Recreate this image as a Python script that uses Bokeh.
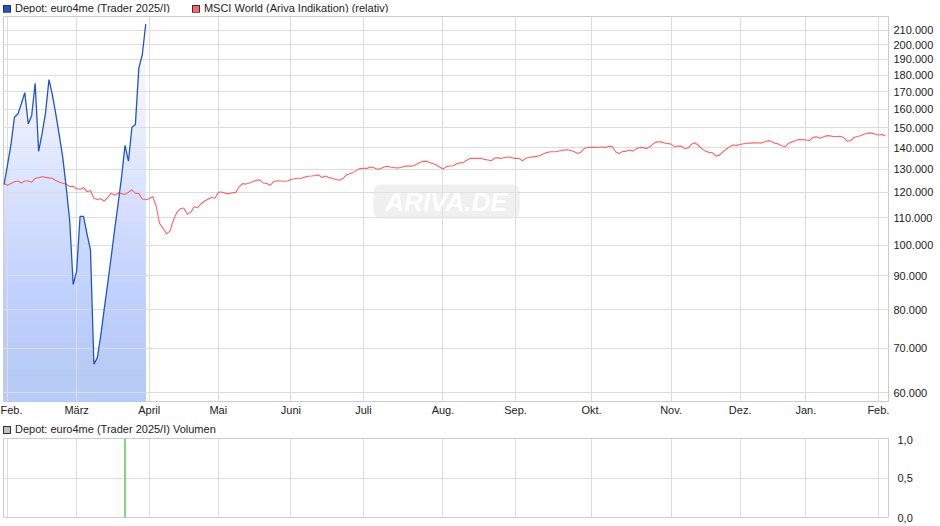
import numpy as np
import pandas as pd
from bokeh.plotting import figure
from bokeh.models import (Range1d, FixedTicker, Label, Grid, Div)
from bokeh.layouts import column
from bokeh.embed import file_html
from bokeh.resources import INLINE

# ---------------- data ----------------
HOLIDAYS = ["2025-04-18", "2025-04-21", "2025-05-01", "2025-12-24",
            "2025-12-25", "2025-12-26", "2025-12-31", "2026-01-01"]
DATES = pd.bdate_range("2025-01-31", "2026-02-04", freq="C", holidays=HOLIDAYS)

MONTH_LABELS = ["Feb.", "März", "April", "Mai", "Juni", "Juli", "Aug.",
                "Sep.", "Okt.", "Nov.", "Dez.", "Jan.", "Feb."]

SERIES_NAMES = ["Depot: euro4me (Trader 2025/I)",
                "MSCI World (Ariva Indikation) (relativ)"]
VOLUME_NAME = "Depot: euro4me (Trader 2025/I) Volumen"

# Depot euro4me (Trader 2025/I), in thousands, Jan 31 .. Mar 31 2025
DEPOT_K = [123.3, 132.0, 141.5, 155.6, 157.3, 163.0, 169.4, 152.0, 156.6, 175.0,
           138.3, 147.0, 158.0, 177.2, 168.0, 157.0, 146.0, 135.2, 122.0, 108.7,
           87.3, 91.4, 110.5, 110.5, 104.0, 98.5, 66.3, 67.8, 73.3, 80.3,
           87.7, 96.0, 105.5, 115.3, 126.5, 141.2, 133.7, 150.3, 151.7, 184.4,
           193.1, 214.7]

# Depot volume
VOLUME = [0] * 35 + [1] + [0] * 6

# MSCI World (Ariva Indikation) (relativ), in thousands
MSCI_K = [
    123.8, 123.0, 123.8, 124.5, 124.8, 124.0, 124.8, 124.8, 124.3, 126.0,
    126.3, 126.7, 126.4, 126.2, 126.0, 125.0, 124.3, 123.9, 123.5, 122.5,
    122.6, 121.5, 121.3, 122.0, 120.3, 120.8, 117.6, 117.1, 117.4, 116.4,
    118.0, 119.7, 118.8, 119.7, 119.5, 119.2, 120.1, 121.1, 119.7, 119.5,
    117.3, 117.0, 117.4, 118.3, 114.5, 107.8, 106.0, 104.0, 105.0, 109.0,
    112.0, 113.4, 113.7, 111.3, 112.0, 114.2, 113.8, 115.4, 116.5, 117.2,
    117.9, 117.6, 120.0, 120.2, 119.7, 119.4, 119.9, 119.9, 122.3, 123.7,
    123.5, 124.0, 124.6, 125.2, 125.2, 124.0, 123.8, 123.0, 124.5, 124.9,
    124.8, 124.7, 124.8, 125.5, 125.8, 126.0, 126.0, 126.5, 126.9, 127.0,
    127.2, 127.5, 126.3, 127.0, 126.3, 126.0, 125.5, 125.2, 125.8, 127.4,
    128.0, 128.6, 129.5, 130.3, 130.4, 130.4, 131.0, 130.7, 130.0, 130.3,
    131.0, 131.4, 130.9, 130.7, 130.6, 130.9, 131.4, 131.4, 131.4, 131.9,
    132.8, 133.5, 133.7, 133.2, 132.6, 132.0, 131.0, 130.1, 131.2, 131.5,
    131.6, 132.5, 132.9, 133.2, 134.2, 135.0, 135.0, 135.0, 135.0, 134.5,
    134.2, 133.9, 135.2, 135.2, 135.0, 135.4, 135.6, 135.3, 135.0, 135.0,
    133.9, 135.0, 135.5, 135.7, 135.9, 136.2, 137.0, 137.7, 138.1, 138.1,
    138.2, 138.6, 138.9, 139.1, 138.7, 138.1, 137.3, 138.0, 139.8, 140.2,
    140.2, 140.2, 140.3, 140.4, 140.1, 140.8, 140.5, 138.0, 137.3, 138.3,
    138.3, 138.9, 138.4, 139.6, 140.2, 140.1, 139.6, 140.6, 142.2, 142.9,
    142.9, 142.4, 142.1, 141.8, 140.6, 140.9, 140.8, 139.5, 140.0, 141.9,
    142.4, 141.0, 139.5, 138.4, 137.8, 137.6, 136.1, 136.5, 138.0, 139.4,
    140.6, 141.4, 141.2, 141.6, 142.0, 142.2, 142.3, 142.4, 142.5, 142.3,
    142.8, 143.5, 143.2, 142.2, 141.9, 141.0, 140.5, 142.2, 142.9, 143.6,
    144.0, 144.0, 143.8, 143.6, 145.0, 145.4, 144.7, 145.3, 146.0, 145.9,
    145.6, 145.6, 145.7, 145.0, 143.2, 143.5, 145.2, 145.6, 146.1, 146.8,
    147.4, 147.3, 146.8, 146.3, 146.6, 145.9]

Y_TICKS = list(range(60000, 210001, 10000))
Y_LABELS = {v: f"{v // 1000}.000" for v in Y_TICKS}
VOL_TICKS = [0, 0.5, 1]
VOL_LABELS = {0: "0,0", 0.5: "0,5", 1: "1,0"}

N_DAYS = min(len(DATES), len(MSCI_K))
x_all = list(range(N_DAYS))
msci = [v * 1000 for v in MSCI_K[:N_DAYS]]
x_dep = list(range(len(DEPOT_K)))
depot = np.array([v * 1000 for v in DEPOT_K])

tick_idx = [i for i in range(1, N_DAYS) if DATES[i].month != DATES[i - 1].month]
x_labels = {t: MONTH_LABELS[k] for k, t in enumerate(tick_idx[:len(MONTH_LABELS)])}

# ---------------- style ----------------
FONT = "Liberation Sans"
GRID = "#dddddd"
FRAME = "#cccccc"
TXT = "#222222"
BLUE = "#1f56c6"
RED = "#ff6464"
VOLC = "#c0c0c0"
AREA = (183, 205, 246)
FW = 885
FH = 385
VH = 79
TOTAL_W = 938
Y_MIN, Y_MAX = 58260, 220400


def legend_html(entries, pad_top):
    sq = ("display:inline-block;width:8px;height:8px;border:1px solid #333;"
          "vertical-align:-1px;background:{c};margin-left:{m}px")
    parts = []
    for k, (name, col) in enumerate(entries):
        parts.append(f'<span style="{sq.format(c=col, m=3 if k == 0 else 22)}"></span>'
                     f'<span style="margin-left:4px">{name}</span>')
    return (f'<div style="font-family:\'{FONT}\';font-size:11px;color:{TXT};'
            f'line-height:12px;white-space:nowrap;padding-top:{pad_top}px">'
            + "".join(parts) + "</div>")


x_range = Range1d(-0.16, N_DAYS - 0.08)

head = Div(text=legend_html(list(zip(SERIES_NAMES, [BLUE, RED])), 0),
           width=TOTAL_W, height=12, margin=(0, 0, 0, 0))

p = figure(frame_width=FW, frame_height=FH, x_range=x_range, y_range=Range1d(Y_MIN, Y_MAX),
           y_axis_type="log", y_axis_location="right",
           output_backend="svg", toolbar_location=None,
           min_border_left=3, min_border_right=50, min_border_top=4,
           min_border_bottom=16, background_fill_color="white",
           border_fill_color="white", outline_line_color=FRAME)

# gradient fill under the depot line (vertical gradient, stacked layers)
lo, hi = np.log(Y_MIN), np.log(Y_MAX)
N = 60
for n in range(1, N + 1):
    t = np.exp(hi - (n - 1) / N * (hi - lo))
    a = 1 - (1 - n / N) / (1 - (n - 1) / N)
    r = p.varea(x=x_dep, y1=[40000] * len(x_dep), y2=np.minimum(depot, t),
                fill_color=AREA, fill_alpha=a)
    r.level = "image"

p.line(x_all, msci, line_color=RED, line_width=1.1)
p.line(x_dep, depot, line_color=BLUE, line_width=1.3)

p.yaxis.ticker = FixedTicker(ticks=Y_TICKS)
p.yaxis.major_label_overrides = Y_LABELS
p.xaxis.ticker = FixedTicker(ticks=tick_idx)
p.xaxis.major_label_overrides = x_labels
for ax in (p.xaxis[0], p.yaxis[0]):
    ax.axis_line_color = None
    ax.major_tick_line_color = None
    ax.minor_tick_line_color = None
    ax.major_tick_out = 0
    ax.major_tick_in = 0
    ax.minor_tick_out = 0
    ax.major_label_text_font = FONT
    ax.major_label_text_font_size = "11px"
    ax.major_label_text_color = TXT
p.yaxis.major_label_standoff = 5
p.xaxis.major_label_standoff = 2
p.xgrid.grid_line_color = GRID
p.ygrid.grid_line_color = GRID

wm = Label(x=443, y=200, x_units="screen", y_units="screen", text="ARIVA.DE",
           text_align="center", text_baseline="middle", text_font=FONT,
           text_font_style="bold italic", text_font_size="26px", text_color="white",
           background_fill_color="#e4e4e4", background_fill_alpha=0.55,
           border_radius=8, padding=dict(left=12, right=12, top=2, bottom=2))
p.add_layout(wm)

# ---------------- volume panel ----------------
vhead = Div(text=legend_html([(VOLUME_NAME, VOLC)], 5),
            width=TOTAL_W, height=17, margin=(0, 0, 0, 0))

v = figure(frame_width=FW, frame_height=VH, x_range=x_range, y_range=Range1d(0, 1),
           x_axis_location=None, y_axis_location="right",
           output_backend="svg", toolbar_location=None,
           min_border_left=3, min_border_right=50, min_border_top=3,
           min_border_bottom=7, background_fill_color="white",
           border_fill_color="white", outline_line_color=FRAME)
v.vbar(x=x_dep, top=VOLUME, width=0.45, fill_color="#5ccc5c", line_color=None)
v.yaxis.ticker = FixedTicker(ticks=VOL_TICKS)
v.yaxis.major_label_overrides = VOL_LABELS
ax = v.yaxis[0]
ax.axis_line_color = None
ax.major_tick_line_color = None
ax.minor_tick_line_color = None
ax.major_tick_out = 0
ax.major_tick_in = 0
ax.minor_tick_out = 0
ax.major_label_text_font = FONT
ax.major_label_text_font_size = "11px"
ax.major_label_text_color = TXT
ax.major_label_standoff = 9
v.ygrid.grid_line_color = GRID
if len(v.xgrid) == 0:
    v.add_layout(Grid(dimension=0, ticker=FixedTicker(ticks=tick_idx)), "center")
v.xgrid.ticker = FixedTicker(ticks=tick_idx)
v.xgrid.grid_line_color = GRID

layout = column(head, p, vhead, v, spacing=0)
open("out.html", "w").write(file_html(layout, INLINE))
